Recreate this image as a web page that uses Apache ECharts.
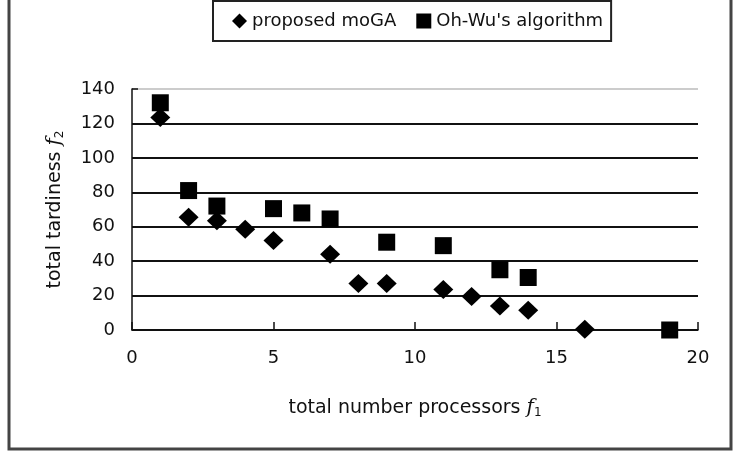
<!DOCTYPE html>
<html>
<head>
<meta charset="utf-8">
<script src="https://cdn.jsdelivr.net/npm/echarts@6/dist/echarts.min.js"></script>
<style>html,body{margin:0;padding:0;background:#fff}#c{width:734px;height:460px}</style>
</head>
<body>
<div id="c"></div>
<script>
const moGA_x = [1, 2, 3, 4, 5, 7, 8, 9, 11, 12, 13, 14, 16];
const moGA_y = [123.5, 65.5, 63.5, 58.5, 52, 44, 27, 27, 23.5, 19.5, 14, 11.5, 0.5];
const ohwu_x = [1, 2, 3, 5, 6, 7, 9, 11, 13, 14, 19];
const ohwu_y = [132, 81, 72, 70.5, 68, 64.5, 51, 49, 35, 30.5, 0];
const xTicks = [0, 5, 10, 15, 20];
const yTicks = [0, 20, 40, 60, 80, 100, 120, 140];

const FONT = 'DejaVu Sans';
const chart = echarts.init(document.getElementById('c'));
chart.setOption({
  backgroundColor: '#fff',
  animation: false,
  textStyle: { fontFamily: FONT, color: '#111' },
  graphic: [{
    type: 'rect', shape: { x: 9, y: -10, width: 722, height: 459 },
    style: { fill: 'none', stroke: '#444', lineWidth: 3 }, z: 100
  }],
  legend: {
    left: 213, top: 1,
    padding: [11, 8, 11, 19],
    borderColor: '#222', borderWidth: 2,
    itemGap: 20, itemWidth: 15, itemHeight: 15,
    textStyle: { fontFamily: FONT, fontSize: 18, color: '#111' },
    data: [
      { name: 'proposed moGA', icon: 'diamond' },
      { name: "Oh-Wu's algorithm", icon: 'rect' }
    ]
  },
  grid: { left: 132, right: 36, top: 89, bottom: 130, containLabel: false },
  xAxis: {
    type: 'value', min: 0, max: 20, interval: 5,
    axisLine: { show: true, lineStyle: { color: '#111', width: 1.5 } },
    axisTick: { show: true, inside: true, length: 8, lineStyle: { color: '#111', width: 1.5 } },
    splitLine: { show: false },
    axisLabel: { fontSize: 18, color: '#111', margin: 19, fontFamily: FONT },
    name: '{a|total number processors }{f|f}{s|1}',
    nameLocation: 'middle', nameGap: 67,
    nameTextStyle: {
      rich: {
        a: { fontSize: 19, color: '#111', fontFamily: FONT },
        f: { fontSize: 20, color: '#111', fontStyle: 'italic', fontFamily: 'DejaVu Serif' },
        s: { fontSize: 12, color: '#111', fontFamily: FONT, verticalAlign: 'bottom', padding: [10, 0, 0, 0] }
      }
    }
  },
  yAxis: {
    type: 'value', min: 0, max: 140, interval: 20,
    axisLine: { show: true, lineStyle: { color: '#111', width: 1.5 } },
    axisTick: { show: true, inside: true, length: 6, lineStyle: { color: '#111', width: 1.5 } },
    splitLine: { show: true, lineStyle: { color: ['#111', '#111', '#111', '#111', '#111', '#111', '#111', '#ccc'], width: 2 } },
    axisLabel: { fontSize: 18, color: '#111', margin: 17, fontFamily: FONT },
    name: '{a|total tardiness }{f|f}{s|2}',
    nameLocation: 'middle', nameGap: 66, nameRotate: 90,
    nameTextStyle: {
      rich: {
        a: { fontSize: 19, color: '#111', fontFamily: FONT },
        f: { fontSize: 20, color: '#111', fontStyle: 'italic', fontFamily: 'DejaVu Serif' },
        s: { fontSize: 12, color: '#111', fontFamily: FONT, verticalAlign: 'bottom', padding: [10, 0, 0, 0] }
      }
    }
  },
  series: [
    {
      name: 'proposed moGA', type: 'scatter', symbol: 'diamond', symbolSize: [20, 19],
      itemStyle: { color: '#000', opacity: 1 },
      data: moGA_x.map((x, i) => [x, moGA_y[i]]), z: 3
    },
    {
      name: "Oh-Wu's algorithm", type: 'scatter', symbol: 'rect', symbolSize: 17,
      itemStyle: { color: '#000', opacity: 1 },
      data: ohwu_x.map((x, i) => [x, ohwu_y[i]]), z: 2
    }
  ]
});
</script>
</body>
</html>
